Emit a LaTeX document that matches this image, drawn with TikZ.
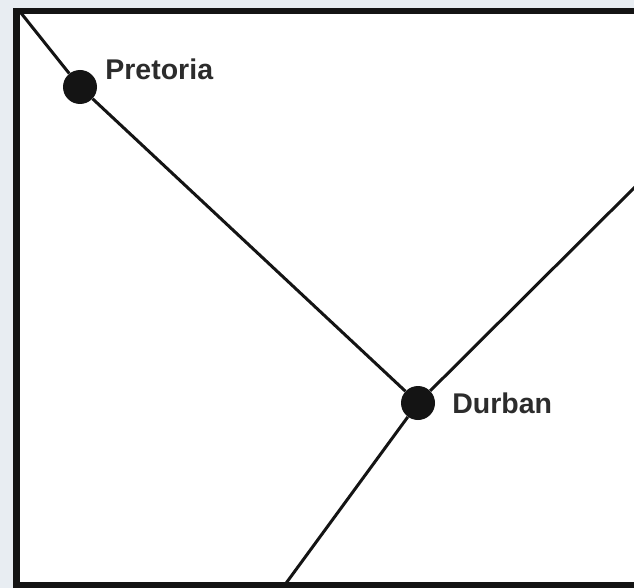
\documentclass[tikz,border=0pt]{standalone}
\usepackage{fontspec}
\setmainfont{Liberation Sans}
\usetikzlibrary{positioning}
\definecolor{pagebg}{RGB}{232,237,242}
\definecolor{ink}{RGB}{20,20,20}
\tikzset{city/.style={circle, fill=ink, draw=none, inner sep=0pt, minimum size=34pt},
         cityname/.style={font=\fontsize{28.5}{30}\selectfont\bfseries, text=ink!90, inner sep=0pt},
         route/.style={draw=ink, line width=3pt}}

\begin{document}
\begin{tikzpicture}[x=1pt, y=-1pt]
    % page and frame
    \fill[pagebg] (0,0) rectangle (634,588);
    \useasboundingbox (0,0) rectangle (634,588);
    \clip (0,0) rectangle (634,588);
    \fill[white] (16.5,11) rectangle (645,585);
    \draw[ink, line width=6.5pt] (16.5,11) rectangle (645,585);

    \coordinate (nw) at (21,13);
    \coordinate (south) at (284,586);
    \coordinate (east) at (640,182);

    \node (pretoria) [city] at (80,87) {};
    \node (durban) [city] at (418,403) {};

    \node (pretorianame) [cityname, right=8pt of pretoria, yshift=18pt] {Pretoria};
    \node (durbanname) [cityname, right=17pt of durban] {Durban};

    \draw[route] (nw) -- (pretoria) -- (durban);
    \draw[route] (south) -- (durban) -- (east);
\end{tikzpicture}
\end{document}
